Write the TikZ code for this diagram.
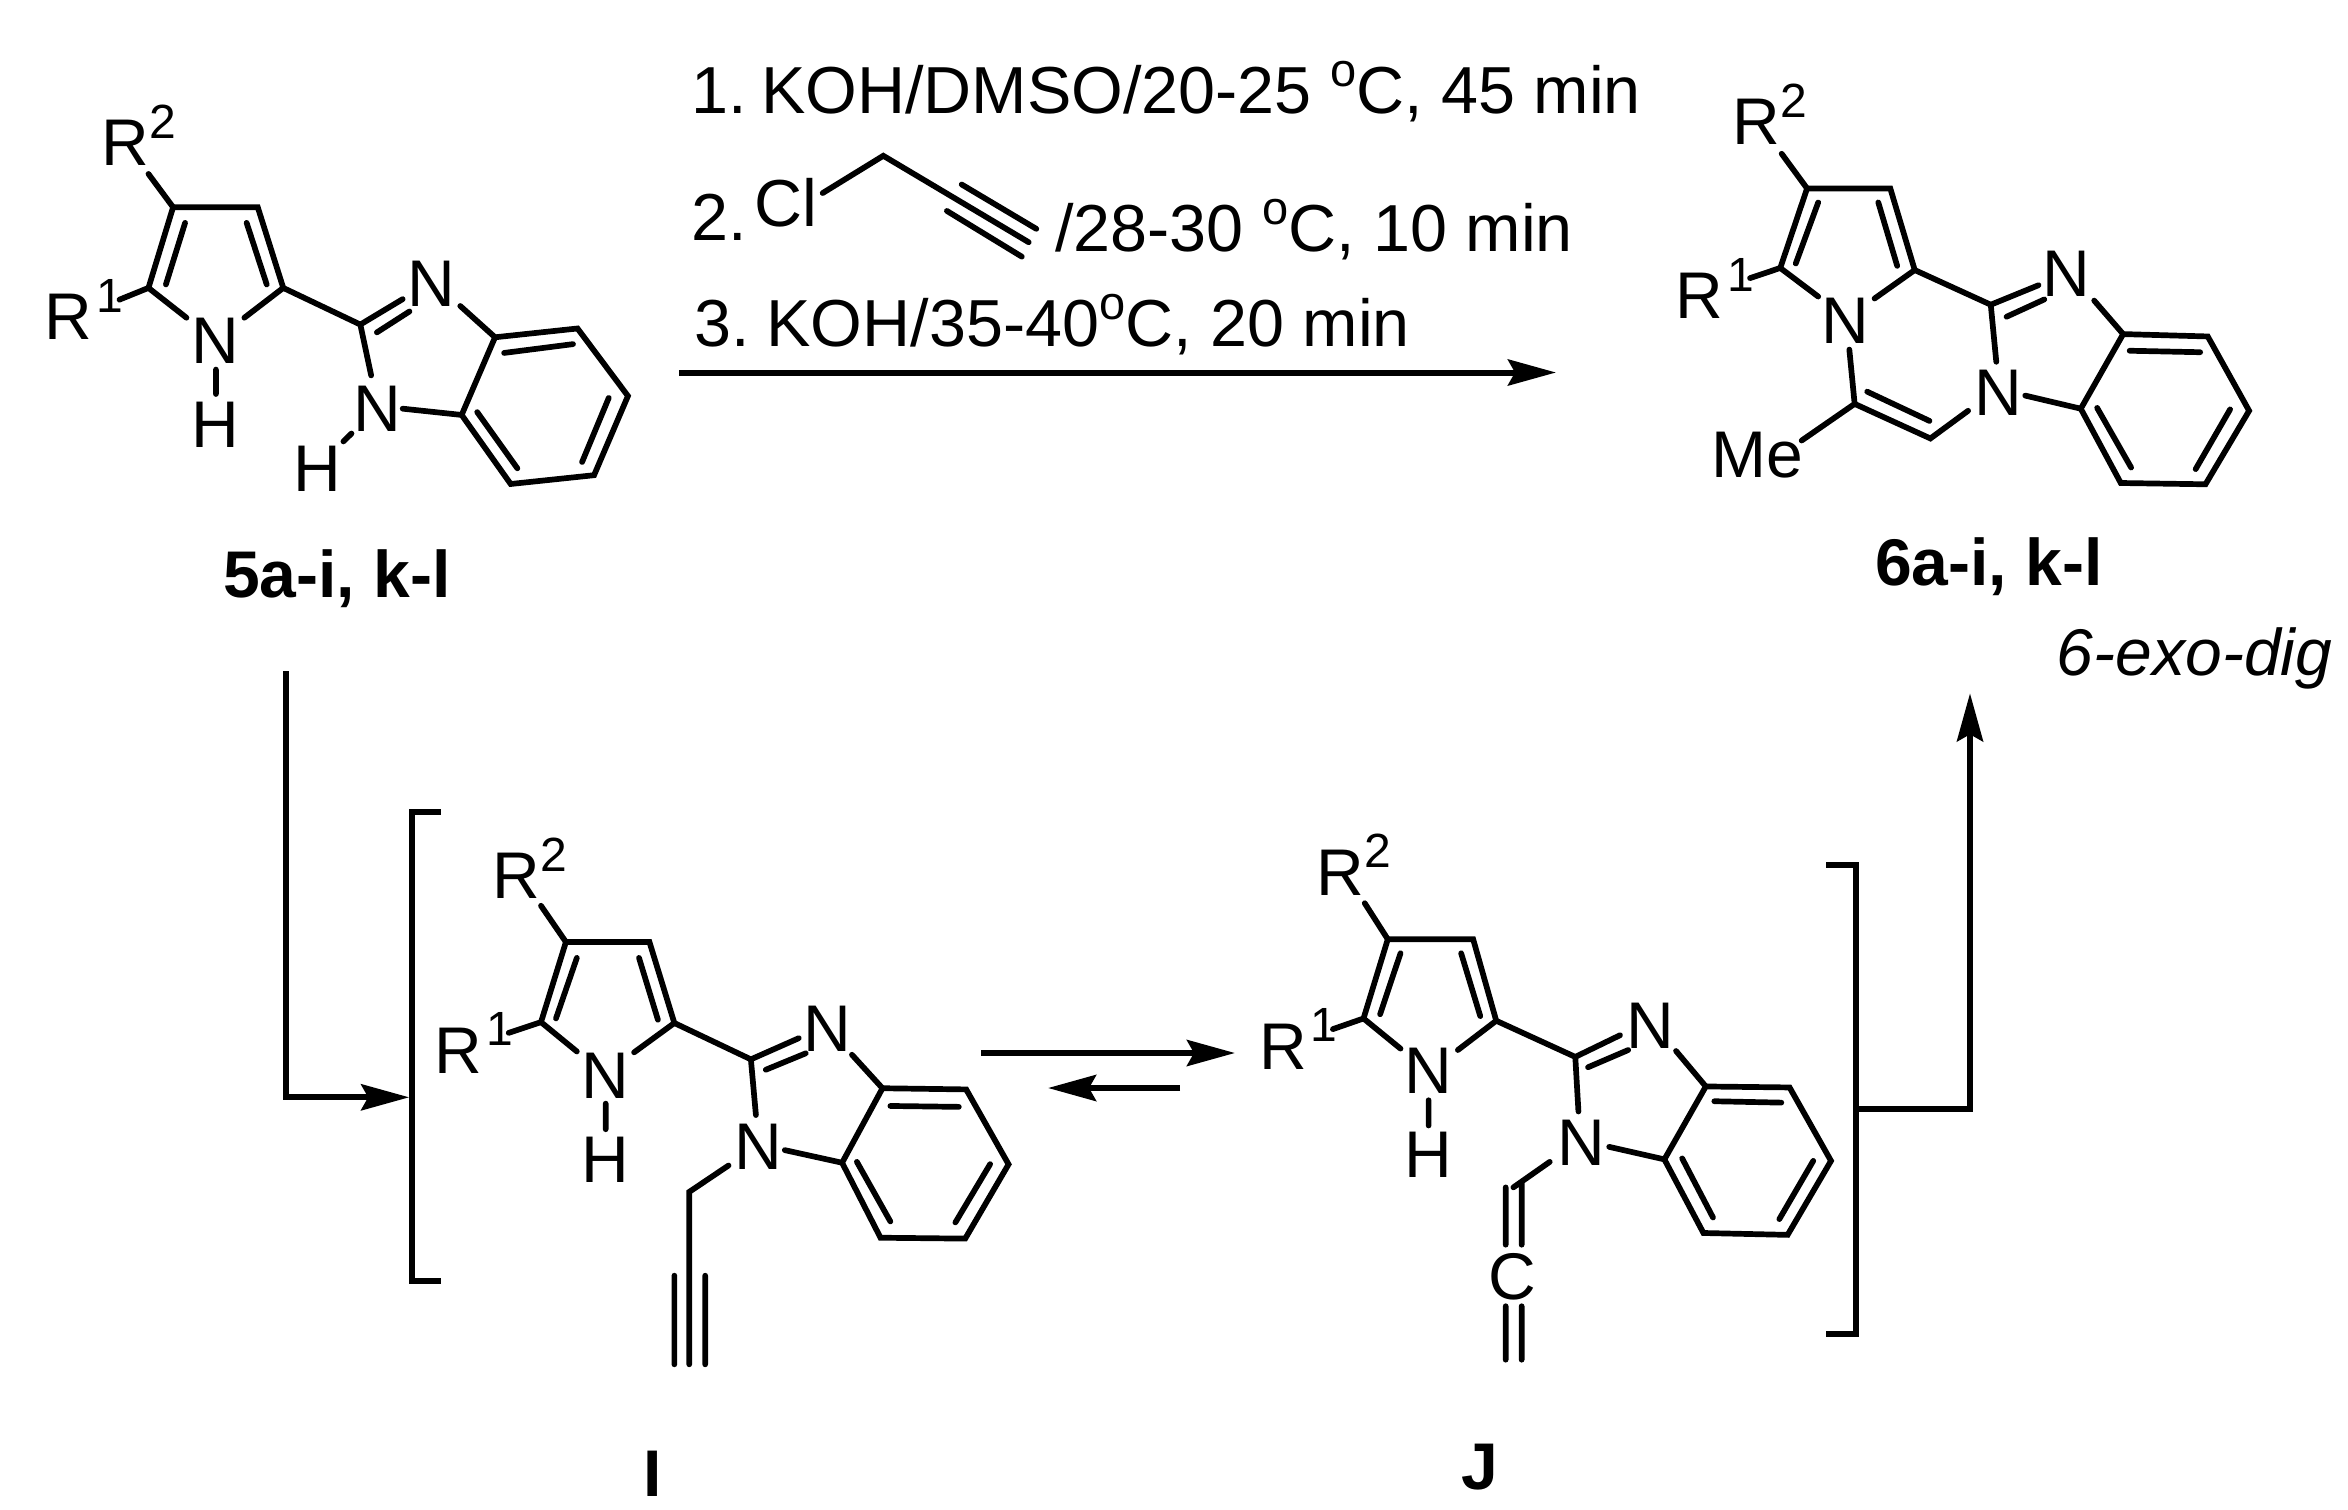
\documentclass[tikz,border=0pt]{standalone}
\usepackage{fontspec}
\setmainfont{Liberation Sans}
\usetikzlibrary{arrows.meta}
\newcommand\dgr{\raisebox{26.5pt}{\fontsize{47}{47}\selectfont o}}
\newcommand\sups[1]{\raisebox{27.5pt}{\fontsize{48}{48}\selectfont #1}}
\newcommand\pts[1]{\foreach \n/\x/\y in {#1} {\coordinate (\n) at (\x,\y);}}
\tikzset{
  bond/.style={line width=5.7pt,line cap=round,line join=miter},
  atom/.style={font=\fontsize{66}{79}\selectfont,inner sep=0pt,anchor=center},
  txt/.style={font=\fontsize{66}{79}\selectfont,inner sep=0pt,anchor=base west},
  cond/.style={font=\fontsize{66.5}{79}\selectfont,inner sep=0pt,anchor=base west},
  lbl/.style={font=\fontsize{66}{79}\selectfont\bfseries,inner sep=0pt,anchor=base},
  arr/.style={line width=6pt,-{Stealth[length=48pt,width=26pt,inset=7pt]}},
  brk/.style={line width=6pt,line cap=butt,line join=miter}
}
\begin{document}
\begin{tikzpicture}[x=1pt,y=-1pt]
\useasboundingbox (0,0) rectangle (2348,1510);
\fill[white] (0,0) rectangle (2348,1510);

% ---------- 5a-i, k-l
\begin{scope}[x=.98455pt,y=-.97808pt,yshift=-1.8pt]
\pts{a4/175.8/210,a3/261.8/210,a2/287.7/292.5,a5/150.8/292.5,
ar2/150.8/176,ar1/121.4/304.5,an1/189.4/323,an2/248.2/323,
anh1/219.3/376,anh2/219.3/401,ac/366/330,ad1/409/304,ad2/382.8/338,ad3/415.9/316.6,
an3/377/382,bh1/357/441.4,bh2/348.8/449.5,an4/467.5/311,
rA/502.8/343,rB/586.6/334,rC/637.8/403,rD/603.4/484,rE/518.7/493,rF/468.9/422.4,an5/409/416,
i1/512/359,i2/582/350,i3/618.3/405,i4/591.2/470.6,i5/525.5/477,i6/484.7/419.5,
p1/188/226,p2/168.5/289,p3/250.5/226,p4/270.9/289}
\node[txt] (aR2) at (102.8,167.7) {R\sups{2}};
\node[txt] (aR1) at (45.3,345.7) {R\kern4pt\sups{1}};
\node[atom] (aN) at (218.8,346.5) {N};
\node[atom] (aH) at (219,432) {H};
\node[atom] (aN3) at (438.5,288) {N};
\node[atom] (aN1) at (382.8,416) {N};
\node[atom] (aH2) at (322.5,477) {H};
\draw[bond] (an1)--(a5)--(a4)--(a3)--(a2)--(an2);
\draw[bond] (ar2)--(a4) (ar1)--(a5) (anh1)--(anh2) (p1)--(p2) (p3)--(p4);
\draw[bond] (a2)--(ac)--(ad1) (ad2)--(ad3) (ac)--(an3) (bh1)--(bh2) (an4)--(rA);
\draw[bond] (rA)--(rB)--(rC)--(rD)--(rE)--(rF)--cycle (an5)--(rF) (i1)--(i2) (i3)--(i4) (i5)--(i6);
\node[lbl] (a5l) at (342,609) {5a-i, k-l};
\end{scope}

% ---------- conditions
\node[cond] (t1) at (691,113) {1.\kern-4pt\ KOH/DMSO/20-25 \dgr C, 45 min};
\node[cond] (t2a) at (691,240) {2.};
\node[cond] (tCl) at (754,226) {Cl};
\node[cond] (t2b) at (1055,251) {/28-30 \dgr C, 10 min};
\node[cond] (t3) at (694,346) {3.\kern-1.5pt\ KOH/35-40\dgr C, 20 min};
\begin{scope}[x=.98578pt,y=-.994pt,xshift=9.4pt,yshift=-1.2pt]
\pts{c1/825/193,c2/886.5/155.5,c3/1034/242.5,c4/966/184.4,c5/1041.7/229,c6/951/211,c7/1027/257}
\draw[bond] (c1)--(c2)--(c3) (c4)--(c5) (c6)--(c7);
\end{scope}
\pts{m1/679/372.5,m2/1556/372.5}
\draw[arr] (m1)--(m2);

% ---------- 6a-i, k-l
\begin{scope}[x=.98496pt,y=-.98551pt,xshift=23.8pt,yshift=-.4pt]
\pts{b4/1810.5/190.8,b3/1895/190.8,b2/1919.8/273.6,b5/1783.3/271.5,
bn1/1821.8/300.5,bn2/1879/302.5,br2/1784.7/155.6,br1/1752.6/281.8,
q1/1821.8/205,q2/1799/267,q3/1882.8/205,q4/1902/269.4,
bc/1997/308.8,bd1/2045.5/289,bd2/2013/321,bd3/2051.4/303.4,bn3/2002.6/366.7,
bn4/2102/304.6,sA/2131.4/338.6,sB/2217.3/341,sC/2259.3/416.4,sD/2215/491,sE/2129/489.7,sF/2088.4/414.3,
bn5/2032/401,j1/2138/355.5,j2/2209.6/357,j3/2240/415,j4/2205/475.6,j5/2139.5/474,j6/2105/413.5,
bn6/1853.4/354.3,bm/1858.8/409.4,bh/1935.7/444.5,k1/1871.5/397,k2/1934.8/426.7,bn7/1974/416.4,bme/1805/446.6}
\node[txt] (bR2) at (1734.5,146.5) {R\sups{2}};
\node[txt] (bR1) at (1677,323) {R\kern4pt\sups{1}};
\node[atom] (bN) at (1849.8,325.3) {N};
\node[atom] (bN3) at (2074,277.7) {N};
\node[atom] (bN1) at (2004.8,397.8) {N};
\node[txt] (bMe) at (1713,484) {Me};
\draw[bond] (bn1)--(b5)--(b4)--(b3)--(b2)--(bn2);
\draw[bond] (br2)--(b4) (br1)--(b5) (q1)--(q2) (q3)--(q4);
\draw[bond] (b2)--(bc)--(bd1) (bd2)--(bd3) (bc)--(bn3) (bn4)--(sA);
\draw[bond] (sA)--(sB)--(sC)--(sD)--(sE)--(sF)--cycle (bn5)--(sF) (j1)--(j2) (j3)--(j4) (j5)--(j6);
\draw[bond] (bn6)--(bm)--(bh)--(bn7) (k1)--(k2) (bm)--(bme);
\node[lbl] (b6l) at (1995,594) {6a-i, k-l};
\node[txt,font=\fontsize{66}{79}\selectfont\itshape] (exo) at (2064,685.5) {6-exo-dig};
\end{scope}

% ---------- I
\begin{scope}[x=.98495pt,y=-.9854pt,xshift=3.9pt,yshift=-11.39pt]
\pts{d4/570.6/944.4,d3/655.4/944.4,d2/680.7/1026.6,d5/545.3/1025.7,
dnh1/611/1108.4,dnh2/611/1134.4,dn1/581.7/1055.5,dn2/639.8/1056.4,dr2/545.3/907.6,dr1/512.5/1036.6,
u1/581.7/960.5,u2/560.5/1022,u3/644.8/960.5,u4/664/1023.3,
dc/758.4/1063.5,dd1/807/1042,dd2/773.6/1074,dd3/814/1057.4,dn3/763.5/1120,
dn4/861/1058.8,vA/892/1092.8,vB/977/1094,vC/1020/1170,vD/976/1245.4,vE/890/1244.5,vF/851/1168.4,
dn5/792.8/1155.6,w1/900/1110.8,w2/969.5/1111.7,w3/1001.3/1169.8,w4/966/1229,w5/900/1228,w6/866/1167.5,
dn6/735.7/1171.2,dch/695.8/1198,dtr/695.8/1373,dt1/680.7/1283,dt2/680.7/1373,dt3/712/1283,dt4/712/1373,
br1t/443.3/812,br1a/414/812,br1b/414/1288,br1c/443.3/1288,
ia1/286/669.4,ia2/286/1102,ia3/411.5/1102}
\node[txt] (dR2) at (496,900.7) {R\sups{2}};
\node[txt] (dR1) at (437,1077.7) {R\kern4pt\sups{1}};
\node[atom] (dN) at (611,1080) {N};
\node[atom] (dH) at (611,1165) {H};
\node[atom] (dN3) at (835.7,1032.8) {N};
\node[atom] (dN1) at (766,1152) {N};
\draw[bond] (dn1)--(d5)--(d4)--(d3)--(d2)--(dn2);
\draw[bond] (dr2)--(d4) (dr1)--(d5) (dnh1)--(dnh2) (u1)--(u2) (u3)--(u4);
\draw[bond] (d2)--(dc)--(dd1) (dd2)--(dd3) (dc)--(dn3) (dn4)--(vA);
\draw[bond] (vA)--(vB)--(vC)--(vD)--(vE)--(vF)--cycle (dn5)--(vF) (w1)--(w2) (w3)--(w4) (w5)--(w6);
\draw[bond] (dn6)--(dch)--(dtr) (dt1)--(dt2) (dt3)--(dt4);
\node[lbl] (il) at (659,1507.6) {I};
\draw[brk] (br1t)--(br1a)--(br1b)--(br1c);
\draw[arr,line join=miter] (ia1)--(ia2)--(ia3);
\end{scope}

% ---------- equilibrium
\pts{e1/981/1053,e2/1235/1053,e3/1180/1088,e4/1048/1088}
\draw[arr] (e1)--(e2);
\draw[arr] (e3)--(e4);

% ---------- J
\begin{scope}[x=.98578pt,y=-.9854pt,xshift=14.2pt,yshift=-11.39pt]
\pts{f4/1393.4/941.6,f3/1480/941.6,f2/1503.4/1024.3,f5/1368.8/1022,
fnh1/1434.8/1105,fnh2/1434.8/1130.6,fn1/1406.3/1052.6,fn2/1464.5/1054,fr2/1370/905,fr1/1337.7/1032.8,
x1/1406.3/955.8,x2/1385.6/1017.7,x3/1467.8/955.8,x4/1487.2/1019.6,
fc/1583.6/1061,fd1/1629/1039,fd2/1596.5/1071.5,fd3/1637.3/1054,fn3/1586.8/1116.4,
fn4/1685.8/1055,yA/1716/1091,yB/1801/1092,yC/1843/1166.5,yD/1799/1241.6,yE/1713.6/1239.7,yF/1674/1165,
fn5/1618/1152.3,z1/1724.6/1106,z2/1792.6/1107.4,z3/1825/1166.5,z4/1790.6/1225.6,z5/1723.3/1224,z6/1692/1164,
fn6/1557.7/1167.5,fch/1520.8/1193.4,fa1/1513/1193.4,fa2/1513/1251.6,fa3/1529.2/1189,fa4/1529.2/1251.6,
fb1/1513/1314,fb2/1513/1368.3,fb3/1529.2/1314,fb4/1529.2/1368.3,
br2t/1838/866,br2a/1868.3/866,br2b/1868.3/1342,br2c/1838/1342,
oa1/1868.3/1114,oa2/1984/1114,oa3/1984/692}
\node[txt] (fR2) at (1321,896.7) {R\sups{2}};
\node[txt] (fR1) at (1262.6,1073.7) {R\kern4pt\sups{1}};
\node[atom] (fN) at (1434.8,1075.3) {N};
\node[atom] (fH) at (1434.8,1160.4) {H};
\node[atom] (fN3) at (1660,1029) {N};
\node[atom] (fN1) at (1590,1148.6) {N};
\node[atom] (fC) at (1519.6,1284.6) {C};
\draw[bond] (fn1)--(f5)--(f4)--(f3)--(f2)--(fn2);
\draw[bond] (fr2)--(f4) (fr1)--(f5) (fnh1)--(fnh2) (x1)--(x2) (x3)--(x4);
\draw[bond] (f2)--(fc)--(fd1) (fd2)--(fd3) (fc)--(fn3) (fn4)--(yA);
\draw[bond] (yA)--(yB)--(yC)--(yD)--(yE)--(yF)--cycle (fn5)--(yF) (z1)--(z2) (z3)--(z4) (z5)--(z6);
\draw[bond] (fn6)--(fch) (fa1)--(fa2) (fa3)--(fa4) (fb1)--(fb2) (fb3)--(fb4);
\node[lbl] (jl) at (1486.6,1500) {J};
\draw[brk] (br2t)--(br2a)--(br2b)--(br2c);
\draw[arr,line join=miter] (oa1)--(oa2)--(oa3);
\end{scope}
\end{tikzpicture}
\end{document}
